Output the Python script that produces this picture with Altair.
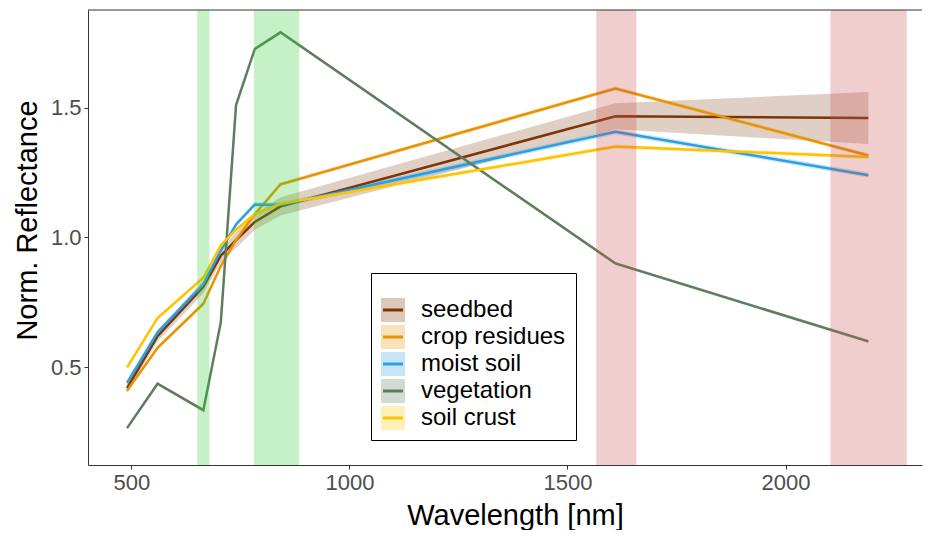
import altair as alt
import pandas as pd

wavelengths = [490, 560, 665, 705, 740, 783, 842, 1610, 2190]
categories = ["seedbed", "crop residues", "moist soil", "vegetation", "soil crust"]

seedbed = [0.42, 0.62, 0.81, 0.93, 0.99, 1.06, 1.12, 1.467, 1.46]
crop_residues = [0.41, 0.575, 0.745, 0.89, 0.99, 1.09, 1.205, 1.574, 1.316]
moist_soil = [0.44, 0.635, 0.82, 0.95, 1.05, 1.127, 1.125, 1.407, 1.24]
vegetation = [0.266, 0.437, 0.335, 0.673, 1.51, 1.726, 1.79, 0.90, 0.60]
soil_crust = [0.50, 0.69, 0.845, 0.97, 1.03, 1.09, 1.13, 1.35, 1.31]

seedbed_sd = [0.015, 0.02, 0.025, 0.025, 0.03, 0.03, 0.035, 0.05, 0.10]
crop_residues_sd = [0.008, 0.008, 0.008, 0.008, 0.008, 0.008, 0.008, 0.008, 0.008]
moist_soil_sd = [0.01, 0.01, 0.01, 0.01, 0.01, 0.01, 0.01, 0.01, 0.01]
vegetation_sd = [0.006, 0.006, 0.006, 0.006, 0.006, 0.006, 0.006, 0.006, 0.006]
soil_crust_sd = [0.008, 0.008, 0.008, 0.008, 0.008, 0.008, 0.008, 0.008, 0.008]

line_colors = ["#7b3608", "#e69500", "#2b9fe0", "#5e7d5e", "#ffc300"]

band_start = [651, 781, 1566, 2103]
band_end = [679, 885, 1658, 2278]
band_kind = ["green", "green", "red", "red"]
band_colors = ["#33cc33", "#c85050"]

series = [seedbed, crop_residues, moist_soil, vegetation, soil_crust]
sds = [seedbed_sd, crop_residues_sd, moist_soil_sd, vegetation_sd, soil_crust_sd]

rows = []
for cat, vals, sd in zip(categories, series, sds):
    for w, v, s in zip(wavelengths, vals, sd):
        rows.append({"wavelength": w, "value": v, "lo": v - s, "hi": v + s,
                     "group": cat, "group_l": cat})
df = pd.DataFrame(rows)
bands = pd.DataFrame({"start": band_start, "end": band_end, "kind": band_kind})

W, H = 834, 455
XT = "Wavelength [nm]"
YT = "Norm. Reflectance"
xscale = alt.Scale(domain=[400.5, 2313], nice=False, zero=False)
yscale = alt.Scale(domain=[0.124, 1.876], nice=False, zero=False)
xaxis = alt.Axis(values=[500, 1000, 1500, 2000], format="d", titleX=427)
yaxis = alt.Axis(values=[0.5, 1.0, 1.5], format=".1f", titleY=210)

LX, LY = 283, 263
common_leg = dict(orient="none", legendX=LX, legendY=LY, labelFontSize=24,
                  labelFont="Liberation Sans", labelColor="black", labelOffset=16,
                  rowPadding=3, padding=10, titleFontSize=12, titlePadding=3,
                  labelLimit=300)

ribbon = alt.Chart(df).mark_area(opacity=0.24).encode(
    x=alt.X("wavelength:Q", scale=xscale, axis=xaxis, title=XT),
    y=alt.Y("lo:Q", scale=yscale, axis=yaxis, title=YT, stack=None),
    y2="hi:Q",
    fill=alt.Fill("group:N", sort=categories, title=" ",
                  scale=alt.Scale(range=line_colors),
                  legend=alt.Legend(symbolType="square", symbolSize=576,
                                    symbolStrokeWidth=0, symbolOpacity=0.27,
                                    fillColor="white", strokeColor="black",
                                    **common_leg)),
)

lines = alt.Chart(df).mark_line(strokeWidth=2.5).encode(
    x=alt.X("wavelength:Q", scale=xscale, title=XT),
    y=alt.Y("value:Q", scale=yscale, title=YT),
    stroke=alt.Stroke("group_l:N", sort=categories, title=" ",
                      scale=alt.Scale(range=line_colors),
                      legend=alt.Legend(symbolType="stroke", symbolSize=400,
                                        symbolStrokeWidth=3, labelOpacity=0,
                                        **common_leg)),
)

band_layer = alt.Chart(bands).mark_rect(opacity=0.28).encode(
    x=alt.X("start:Q", scale=xscale, title=XT),
    x2="end:Q",
    color=alt.Color("kind:N", scale=alt.Scale(domain=["green", "red"], range=band_colors),
                    legend=None),
)

border = alt.Chart(pd.DataFrame({"a": [0]})).mark_rule(color="#333333", strokeWidth=1).encode(
    x=alt.value(0), x2=alt.value(W), y=alt.value(0)
)

chart = alt.layer(ribbon, lines, band_layer, border).properties(
    width=W, height=H,
    padding={"left": 5, "right": 0, "top": 1, "bottom": 0},
).configure_view(stroke=None).configure_axis(
    grid=False, domainColor="#333333", tickColor="#333333", tickSize=4,
    labelColor="#4d4d4d", labelFont="Liberation Sans", labelFontSize=22,
    labelPadding=3, titleFont="Liberation Sans", titleFontSize=29,
    titleFontWeight="normal", titleColor="black", titlePadding=8,
)

chart.save("out.html", embed_options={"renderer": "svg", "actions": False})
